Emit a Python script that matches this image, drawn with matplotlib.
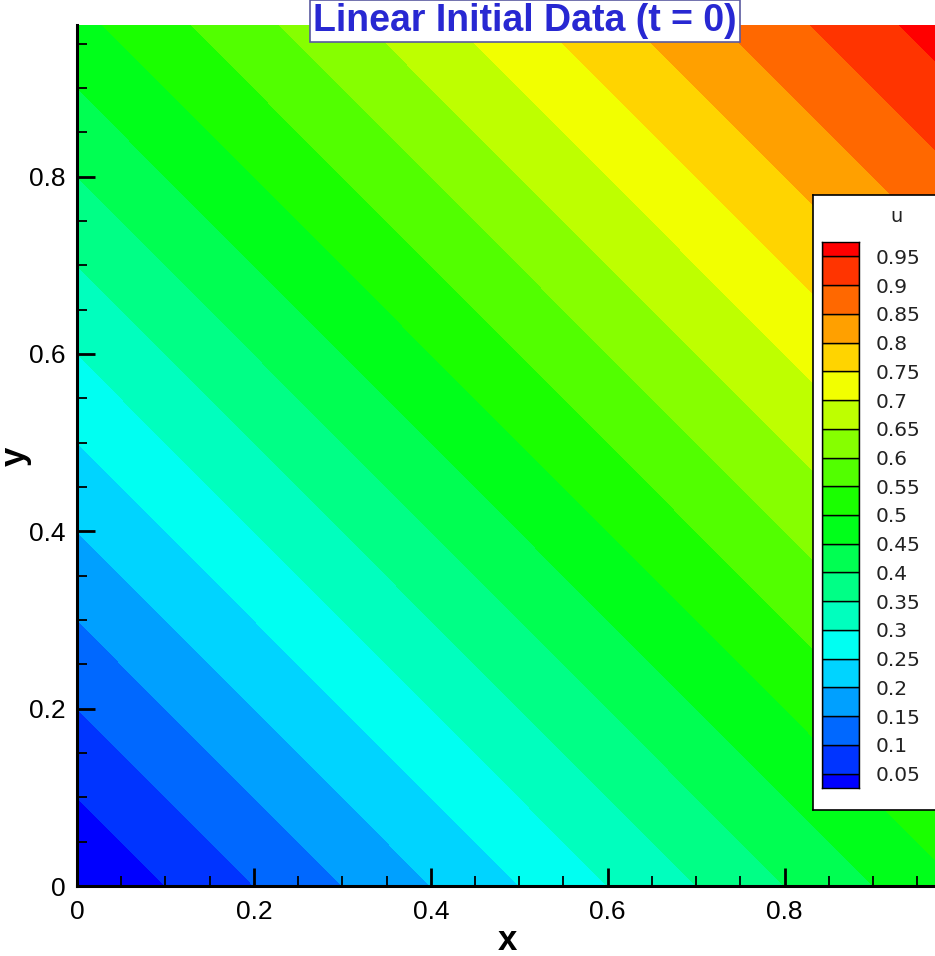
import matplotlib
matplotlib.use("Agg")
import matplotlib.pyplot as plt
from matplotlib.colors import LinearSegmentedColormap
from matplotlib.ticker import MultipleLocator, FuncFormatter

# corner values of the linear field u(x, y)
x_grid = [0.0, 1.0]
y_grid = [0.0, 1.0]
u_grid = [[0.0, 0.5],
          [0.5, 1.0]]

# contour levels / legend entries
levels = [0.0, 0.05, 0.1, 0.15, 0.2, 0.25, 0.3, 0.35, 0.4, 0.45, 0.5,
          0.55, 0.6, 0.65, 0.7, 0.75, 0.8, 0.85, 0.9, 0.95, 1.0]
legend_labels = ["0.05", "0.1", "0.15", "0.2", "0.25", "0.3", "0.35", "0.4", "0.45",
                 "0.5", "0.55", "0.6", "0.65", "0.7", "0.75", "0.8", "0.85", "0.9", "0.95"]
legend_vals = levels[1:-1]

title = "Linear Initial Data (t = 0)"

# tecplot style small rainbow
rainbow = LinearSegmentedColormap.from_list(
    "small_rainbow", ["#0000ff", "#00ffff", "#00ff00", "#ffff00", "#ff0000"])
nband = len(levels) - 1
band_colors = [rainbow(k / (nband - 1)) for k in range(nband)]

plt.rcParams['font.family'] = ['Liberation Sans', 'DejaVu Sans']

fig = plt.figure(figsize=(9.35, 9.56), dpi=100)
ax = fig.add_axes([77 / 935, 70 / 956, 858 / 935, 861 / 956])
ax.contourf(x_grid, y_grid, u_grid, levels=levels, colors=band_colors)
ax.set_xlim(0, 0.97)
ax.set_ylim(0, 0.971)

for s in ['top', 'right']:
    ax.spines[s].set_visible(False)
for s in ['left', 'bottom']:
    ax.spines[s].set_linewidth(2.2)
    ax.spines[s].set_color('black')

fmt = FuncFormatter(lambda v, p: "%g" % round(v, 3))
ax.xaxis.set_major_locator(MultipleLocator(0.2))
ax.yaxis.set_major_locator(MultipleLocator(0.2))
ax.xaxis.set_minor_locator(MultipleLocator(0.05))
ax.yaxis.set_minor_locator(MultipleLocator(0.05))
ax.xaxis.set_major_formatter(fmt)
ax.yaxis.set_major_formatter(fmt)
ax.tick_params(which='major', direction='in', length=13, width=2, labelsize=19)
ax.tick_params(which='minor', direction='in', length=7.5, width=1.3)
ax.tick_params(axis='x', which='major', pad=10)
ax.tick_params(axis='y', which='major', pad=8)

# axis titles
fig.text(507 / 935, 1 - 941 / 956, "x", ha='center', va='center',
         fontsize=25, fontweight='bold')
fig.text(15 / 935, 1 - 456 / 956, "y", ha='center', va='center',
         fontsize=25, fontweight='bold', rotation=90)

fig.text(525 / 935, 1 - 21 / 956, title, ha='center', va='center',
         fontsize=27, fontweight='bold', color='#2828d2',
         bbox=dict(facecolor='white', edgecolor='#5a5aa0', linewidth=1.2,
                   boxstyle='square,pad=0.08'))

# legend frame
lax = fig.add_axes([813 / 935, (956 - 810) / 956, 0.3, (810 - 195) / 956])
lax.set_facecolor('white')
lax.set_xticks([])
lax.set_yticks([])
for s in lax.spines.values():
    s.set_color('black')
    s.set_linewidth(1.2)
fig.text(897 / 935, 1 - 217 / 956, "u", ha='center', va='center',
         fontsize=14, family='DejaVu Sans', color='#222222')

cax = fig.add_axes([822 / 935, (956 - 788) / 956, 37 / 935, (788 - 242) / 956])
cax.bar([0] * nband, [levels[i + 1] - levels[i] for i in range(nband)],
        bottom=levels[:-1], width=1.0, color=band_colors,
        edgecolor='black', linewidth=1.0)
cax.set_xlim(-0.5, 0.5)
cax.set_ylim(0.025, 0.975)
cax.set_xticks([])
cax.yaxis.tick_right()
cax.set_yticks(legend_vals)
cax.set_yticklabels(legend_labels, family='DejaVu Sans')
cax.tick_params(axis='y', length=0, pad=12, labelsize=14.5, labelcolor='#222222')
for s in cax.spines.values():
    s.set_color('black')
    s.set_linewidth(1.0)

fig.savefig("out.png", dpi=100)
